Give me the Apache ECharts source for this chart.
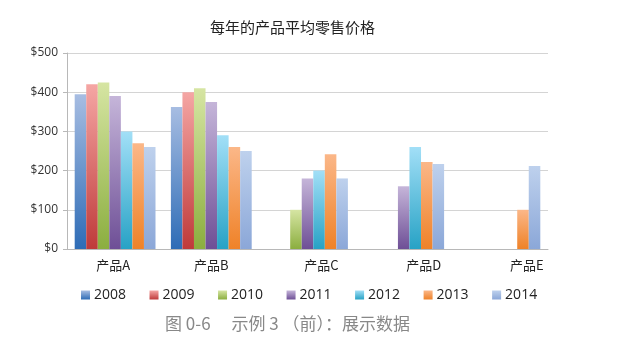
<!DOCTYPE html>
<html>
<head>
<meta charset="utf-8">
<script src="https://cdn.jsdelivr.net/npm/echarts@6/dist/echarts.min.js"></script>
<style>
  html, body { margin: 0; padding: 0; background: #fff; }
  #main { width: 644px; height: 348px; }
</style>
</head>
<body>
<div id="main"></div>
<script type="text/javascript">
    // 数据
    var products = ['产品A', '产品B', '产品C', '产品D', '产品E'];
    var years = ['2008', '2009', '2010', '2011', '2012', '2013', '2014'];
    var price2008 = [395, 362, null, null, null];
    var price2009 = [420, 400, null, null, null];
    var price2010 = [425, 410, 100, null, null];
    var price2011 = [390, 375, 180, 160, null];
    var price2012 = [300, 290, 200, 260, null];
    var price2013 = [270, 260, 242, 222, 100];
    var price2014 = [260, 250, 180, 217, 212];
    var yTicks = [0, 100, 200, 300, 400, 500];

    var seriesData = [price2008, price2009, price2010, price2011, price2012, price2013, price2014];
    // 上浅下深的渐变
    var colors = [
        ['#a7bde2', '#2e6cb6'],
        ['#f5a6a4', '#bf3a3a'],
        ['#d6e5a3', '#8bae3f'],
        ['#c5b5d9', '#6e4f96'],
        ['#a2dff7', '#27a2c5'],
        ['#fbb788', '#ef8228'],
        ['#bed1ed', '#8ba7d8']
    ];
    // 标签的偏移(原图里不是居中)
    var labelShift = {'产品A': 'a', '产品B': 'b', '产品C': 'c', '产品D': 'd', '产品E': 'e'};

    var series = [];
    for (var i = 0; i < years.length; i++) {
        series.push({
            name: years[i],
            type: 'bar',
            barGap: '0%',
            barCategoryGap: '16%',
            data: seriesData[i],
            itemStyle: {
                color: new echarts.graphic.LinearGradient(0, 0, 0, 1, [
                    {offset: 0, color: colors[i][0]},
                    {offset: 1, color: colors[i][1]}
                ])
            }
        });
    }

    var myChart = echarts.init(document.getElementById('main'));
    myChart.setOption({
        animation: false,
        backgroundColor: '#fff',
        title: {
            text: '每年的产品平均零售价格',
            left: 205,
            top: 15,
            textStyle: {fontSize: 15, fontWeight: 'normal', color: '#222', fontFamily: 'Noto Sans CJK SC'}
        },
        legend: {
            data: years,
            left: 76,
            top: 283,
            icon: 'rect',
            itemWidth: 9,
            itemHeight: 9,
            itemGap: 23.5,
            textStyle: {fontSize: 14, color: '#222', fontFamily: 'Open Sans', padding: [0, 0, 0, -1]}
        },
        grid: {left: 67, right: 96, top: 53, bottom: 99},
        xAxis: {
            type: 'category',
            data: products,
            axisLine: {lineStyle: {color: '#b8b8b8'}},
            axisTick: {length: 4, lineStyle: {color: '#b8b8b8'}},
            axisLabel: {
                margin: 10,
                fontSize: 13,
                color: '#222',
                fontFamily: 'Noto Sans CJK SC',
                formatter: function (v) { return '{' + labelShift[v] + '|' + v + '}'; },
                rich: {
                    a: {padding: [0, 4, 0, 0]},
                    b: {padding: [0, 0, 0, 0]},
                    c: {padding: [0, 0, 0, 28]},
                    d: {padding: [0, 0, 0, 40]},
                    e: {padding: [0, 0, 0, 54]}
                }
            }
        },
        yAxis: {
            type: 'value',
            min: yTicks[0],
            max: yTicks[yTicks.length - 1],
            interval: 100,
            axisLine: {show: true, lineStyle: {color: '#b8b8b8'}},
            axisTick: {show: true, length: 4, lineStyle: {color: '#b8b8b8'}},
            splitLine: {lineStyle: {color: '#d4d4d4'}},
            axisLabel: {
                margin: 9,
                fontSize: 12,
                color: '#333',
                fontFamily: 'Open Sans',
                formatter: function (v) { return '$' + v; }
            }
        },
        graphic: [{
            type: 'text',
            left: 165,
            top: 315,
            style: {
                text: '图 0-6　 示例 3 （前）：展示数据',
                fontSize: 17,
                fill: '#888',
                fontFamily: 'Noto Sans CJK SC'
            }
        }],
        series: series
    });
</script>
</body>
</html>
